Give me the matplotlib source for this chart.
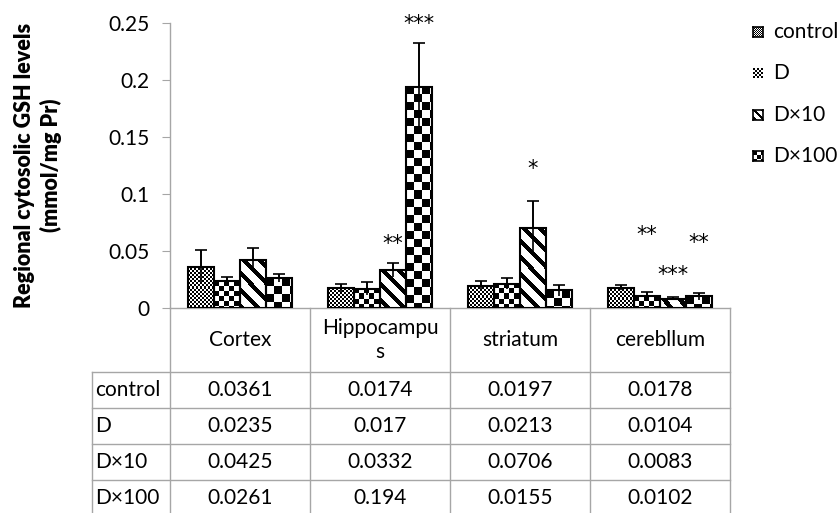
import matplotlib
matplotlib.use("Agg")
import matplotlib.pyplot as plt
import numpy as np

plt.rcParams['font.family'] = ['Lato', 'DejaVu Sans']

regions = ['Cortex', 'Hippocampu\ns', 'striatum', 'cerebllum']
groups = ['control', 'D', 'D×10', 'D×100']
control = [0.0361, 0.0174, 0.0197, 0.0178]
d1 = [0.0235, 0.017, 0.0213, 0.0104]
d10 = [0.0425, 0.0332, 0.0706, 0.0083]
d100 = [0.0261, 0.194, 0.0155, 0.0102]
err_control = [0.0148, 0.0036, 0.0040, 0.0024]
err_d1 = [0.0037, 0.0058, 0.0050, 0.0036]
err_d10 = [0.0101, 0.0063, 0.0233, 0.0013]
err_d100 = [0.0037, 0.0385, 0.0047, 0.0030]
# (region index, group index, label, y)
stars = [(1, 3, '***', 0.2509), (1, 2, '**', 0.0579), (2, 2, '*', 0.1237),
         (3, 1, '**', 0.0658), (3, 2, '***', 0.0307), (3, 3, '**', 0.0588)]

values = [control, d1, d10, d100]
errors = [err_control, err_d1, err_d10, err_d100]
fills = ['fine', 'check5', 'diag', 'check8']

W, H = 839, 513
fig = plt.figure(figsize=(W / 100, H / 100), dpi=100)

# axes box in pixels (top-left origin)
X0, X1, Y0, Y1 = 170, 730, 23, 308
ax = fig.add_axes([X0 / W, (H - Y1) / H, (X1 - X0) / W, (Y1 - Y0) / H])
grey = '#a6a6a6'
fs = 15


def pattern(kind, h, w, scale=1.0):
    yy, xx = np.mgrid[0:h, 0:w]
    if kind == 'fine':
        c = max(int(round(2 * scale)), 1)
        return ((xx // c + yy // c) % 2).astype(float)
    if kind == 'check5':
        c = max(int(round(5 * scale)), 1)
        return ((xx // c + yy // c) % 2).astype(float)
    if kind == 'check8':
        c = max(int(round(8 * scale)), 1)
        return ((xx // c + yy // c) % 2).astype(float)
    p = 16 * scale
    return (((xx - yy) % p) >= 6 * scale).astype(float)


def ay(py):
    return (Y1 - py) / (Y1 - Y0)


ax.set_xlim(-0.5, 3.5)
ax.set_ylim(0, 0.25)

x = np.arange(len(regions))
bw = 0.184
for i, (vals, errs, kind) in enumerate(zip(values, errors, fills)):
    xs = x + (i - 1.5) * bw
    bars = ax.bar(xs, vals, bw, facecolor='none', edgecolor='black', linewidth=1.5, zorder=3)
    for b in bars:
        bx0, bx1 = b.get_x(), b.get_x() + b.get_width()
        p0 = ax.transData.transform((bx0, 0))
        p1 = ax.transData.transform((bx1, b.get_height()))
        wpx = max(int(round(p1[0] - p0[0])), 1)
        hpx = max(int(round(p1[1] - p0[1])), 1)
        im = ax.imshow(pattern(kind, hpx, wpx), extent=(bx0, bx1, 0, b.get_height()),
                       cmap='gray', vmin=0, vmax=1, interpolation='nearest',
                       aspect='auto', zorder=2)
        im.set_clip_path(b)
    ax.errorbar(xs, vals, yerr=[errs, errs], fmt='none', ecolor='black',
                elinewidth=1.2, capsize=0, zorder=4)
    ax.errorbar(xs, vals, yerr=[np.zeros(len(errs)), errs], fmt='none', ecolor='black',
                elinewidth=1.2, capsize=4, capthick=1.2, zorder=4)

for r, g, lab, yv in stars:
    ax.text(x[r] + (g - 1.5) * bw, yv, lab, ha='center', va='center_baseline',
            fontsize=15, family='DejaVu Sans', clip_on=False)

ax.set_xlim(-0.5, 3.5)
ax.set_ylim(0, 0.25)
ax.set_yticks([0, 0.05, 0.1, 0.15, 0.2, 0.25])
ax.set_yticklabels(['0', '0.05', '0.1', '0.15', '0.2', '0.25'])
ax.set_xticks([])
for s in ['top', 'right']:
    ax.spines[s].set_visible(False)
for s in ['left', 'bottom']:
    ax.spines[s].set_color(grey)
    ax.spines[s].set_linewidth(1.0)
ax.tick_params(axis='y', length=6, color=grey, labelsize=fs, pad=9)
ax.patch.set_visible(False)

# data table under the axis
tr = ax.get_xaxis_transform()
left = -0.5 - (X0 - 92) / 140
row_lines = [372, 408, 444, 480]
for xv in [-0.5, 0.5, 1.5, 2.5, 3.5]:
    ax.plot([xv, xv], [ay(Y1), ay(H + 5)], color=grey, lw=1.0, transform=tr, clip_on=False)
ax.plot([left, left], [ay(372), ay(H + 5)], color=grey, lw=1.0, transform=tr, clip_on=False)
for py in row_lines:
    ax.plot([left, 3.5], [ay(py), ay(py)], color=grey, lw=1.0, transform=tr, clip_on=False)

for j, lab in enumerate(regions):
    ax.text(x[j], ay(340), lab, ha='center', va='center', fontsize=fs,
            transform=tr, linespacing=1.3)
for i, (g, vals) in enumerate(zip(groups, values)):
    yc = ay(row_lines[i] + 18)
    ax.text(left + 0.02, yc, g, ha='left', va='center', fontsize=fs, transform=tr)
    for j, v in enumerate(vals):
        ax.text(x[j], yc, f'{v:g}', ha='center', va='center', fontsize=fs, transform=tr)

# y label
fig.text(38 / W, (H - 165) / H, 'Regional cytosolic GSH levels\n(mmol/mg Pr)',
         rotation=90, ha='center', va='center', fontsize=15.5, fontweight='heavy',
         multialignment='center', linespacing=1.3)

# legend
for k, (g, kind) in enumerate(zip(groups, fills)):
    yc = [32, 73, 115, 156][k]
    lax = fig.add_axes([753 / W, (H - yc - 5) / H, 10 / W, 10 / H])
    lax.imshow(pattern(kind, 10, 10, scale=0.5), cmap='gray',
               vmin=0, vmax=1, interpolation='nearest', aspect='auto')
    lax.set_xticks([])
    lax.set_yticks([])
    for s in lax.spines.values():
        s.set_visible(kind != 'check5')
        s.set_linewidth(1.2)
    fig.text(773 / W, (H - yc) / H, g, ha='left', va='center', fontsize=fs)

fig.savefig('out.png', dpi=100)
